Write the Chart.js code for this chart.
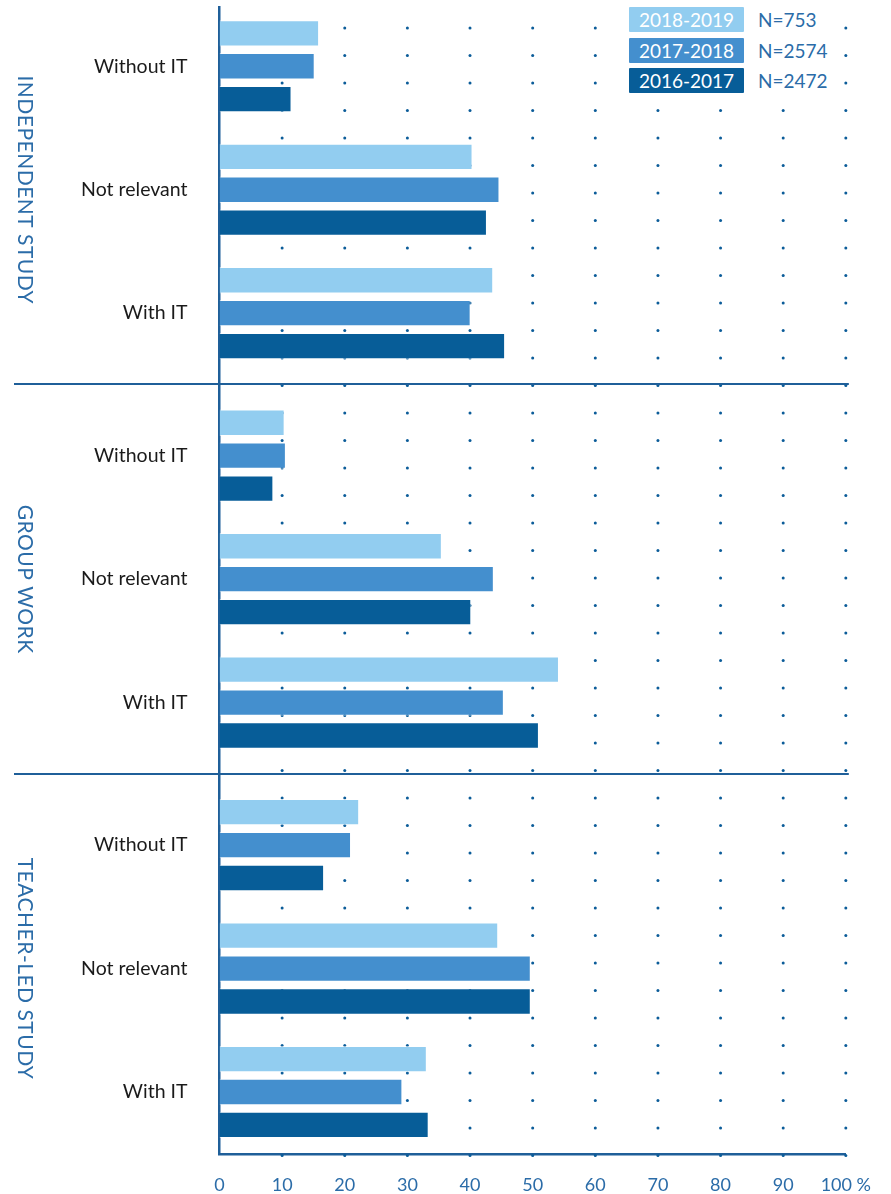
<!DOCTYPE html>
<html><head><meta charset="utf-8">
<script src="https://cdn.jsdelivr.net/npm/chart.js@4.4.1/dist/chart.umd.min.js"></script>
<style>
html,body{margin:0;padding:0;background:#fff;}
#wrap{position:relative;width:891px;height:1194px;}
#legend{position:absolute;left:625px;top:4px;width:212px;height:92px;background:#fff;font-family:Lato,sans-serif;}
.row{position:absolute;left:4px;display:flex;align-items:center;height:25px;}
.box{width:115px;height:25px;color:#fff;font-size:19px;display:flex;align-items:center;justify-content:center;border-radius:1px;}
.n{margin-left:14px;color:#2B6CA8;font-size:19px;}
</style></head>
<body><div id="wrap"><canvas id="c" width="891" height="1194"></canvas><div id="legend"></div></div>
<script>
const groups = ['INDEPENDENT STUDY', 'GROUP WORK', 'TEACHER-LED STUDY'];
const categories = ['Without IT', 'Not relevant', 'With IT'];
const seriesNames = ['2018-2019', '2017-2018', '2016-2017'];
const seriesN = ['N=753', 'N=2574', 'N=2472'];
const values2018 = [15.9, 40.4, 43.7, 10.4, 35.5, 54.2, 22.3, 44.5, 33.1];
const values2017 = [15.2, 44.7, 40.1, 10.6, 43.8, 45.4, 21.0, 49.7, 29.2];
const values2016 = [11.5, 42.7, 45.6, 8.6, 40.2, 51.0, 16.7, 49.7, 33.4];
const xTicks = [0, 10, 20, 30, 40, 50, 60, 70, 80, 90, 100];

const colors = ['#92CDF0', '#448FCE', '#075D98'];
const AXIS = '#1F5F99';
const BLUE_TEXT = '#2B6CA8';
const GROUP_GAP = 0.154;

// legend
const lg = document.getElementById('legend');
seriesNames.forEach((s, i) => {
  const r = document.createElement('div');
  r.className = 'row';
  r.style.top = (3 + i * 30.5) + 'px';
  const b = document.createElement('div');
  b.className = 'box'; b.style.background = colors[i]; b.textContent = s;
  const n = document.createElement('div');
  n.className = 'n'; n.textContent = seriesN[i];
  r.appendChild(b); r.appendChild(n); lg.appendChild(r);
});

const positions = [];
groups.forEach((g, gi) => categories.forEach((c, ci) => positions.push(gi * (3 + GROUP_GAP) + ci)));
const allValues = [values2018, values2017, values2016];

Chart.defaults.font.family = 'Lato, sans-serif';

const decor = {
  id: 'decor',
  beforeDatasetsDraw(chart) {
    const {ctx, chartArea, scales} = chart;
    ctx.save();
    ctx.fillStyle = '#0B5C99';
    xTicks.forEach(v => {
      if (v === 0) return;
      const px = scales.x.getPixelForValue(v);
      for (let y = chartArea.top + 21; y <= chartArea.bottom + 2; y += 27.5) {
        ctx.beginPath(); ctx.arc(px, y, 1.5, 0, Math.PI * 2); ctx.fill();
      }
    });
    ctx.restore();
  },
  afterDraw(chart) {
    const {ctx, chartArea, scales} = chart;
    ctx.save();
    ctx.strokeStyle = AXIS; ctx.lineWidth = 2;
    for (let g = 1; g < groups.length; g++) {
      const mid = (positions[g * 3 - 1] + positions[g * 3]) / 2;
      const py = Math.round(scales.y.getPixelForValue(mid));
      ctx.beginPath(); ctx.moveTo(14, py); ctx.lineTo(chartArea.right + 3, py); ctx.stroke();
    }
    ctx.fillStyle = BLUE_TEXT;
    ctx.font = '400 21px Lato, sans-serif';
    ctx.textAlign = 'center'; ctx.textBaseline = 'middle';
    try { ctx.letterSpacing = '0.5px'; } catch (e) {}
    groups.forEach((g, gi) => {
      const cy = scales.y.getPixelForValue(positions[gi * 3 + 1]);
      ctx.save(); ctx.translate(25, cy); ctx.rotate(Math.PI / 2);
      ctx.fillText(g, 0, 0); ctx.restore();
    });
    ctx.restore();
  }
};

new Chart(document.getElementById('c'), {
  type: 'bar',
  data: {
    datasets: allValues.map((vals, si) => ({
      label: seriesNames[si],
      data: vals.map((v, i) => ({x: v, y: positions[i]})),
      backgroundColor: colors[si],
      borderColor: 'rgba(255,255,255,0.55)',
      borderWidth: 1,
      categoryPercentage: 0.8,
      barPercentage: 0.8
    }))
  },
  options: {
    indexAxis: 'y',
    responsive: false,
    animation: false,
    devicePixelRatio: 1,
    layout: {padding: {top: 7, right: 45, bottom: 0, left: 0}},
    plugins: {legend: {display: false}, tooltip: {enabled: false}},
    scales: {
      x: {
        type: 'linear', min: 0, max: 100,
        grid: {display: false, drawTicks: false, tickLength: 0},
        border: {display: true, color: AXIS, width: 2.5},
        afterBuildTicks: s => { s.ticks = xTicks.map(v => ({value: v})); },
        afterFit: s => { s.height = 40; },
        ticks: {
          color: BLUE_TEXT, font: {size: 18}, padding: 20, maxRotation: 0, autoSkip: false,
          callback: v => v === 100 ? '100 %' : String(v)
        }
      },
      y: {
        type: 'linear', reverse: true, offset: false,
        min: positions[0] - 0.48, max: positions[positions.length - 1] + 0.502,
        grid: {display: false, drawTicks: false, tickLength: 0, offset: false},
        border: {display: true, color: AXIS, width: 2.5},
        afterBuildTicks: s => { s.ticks = positions.map(v => ({value: v})); },
        afterFit: s => { s.width = 219.5; s.paddingTop = 0; s.paddingBottom = 0; },
        ticks: {
          color: '#1a1a1a', font: {size: 19.5}, padding: 32, autoSkip: false,
          callback: (v, i) => categories[i % categories.length]
        }
      }
    }
  },
  plugins: [decor]
});
</script>
</body></html>
